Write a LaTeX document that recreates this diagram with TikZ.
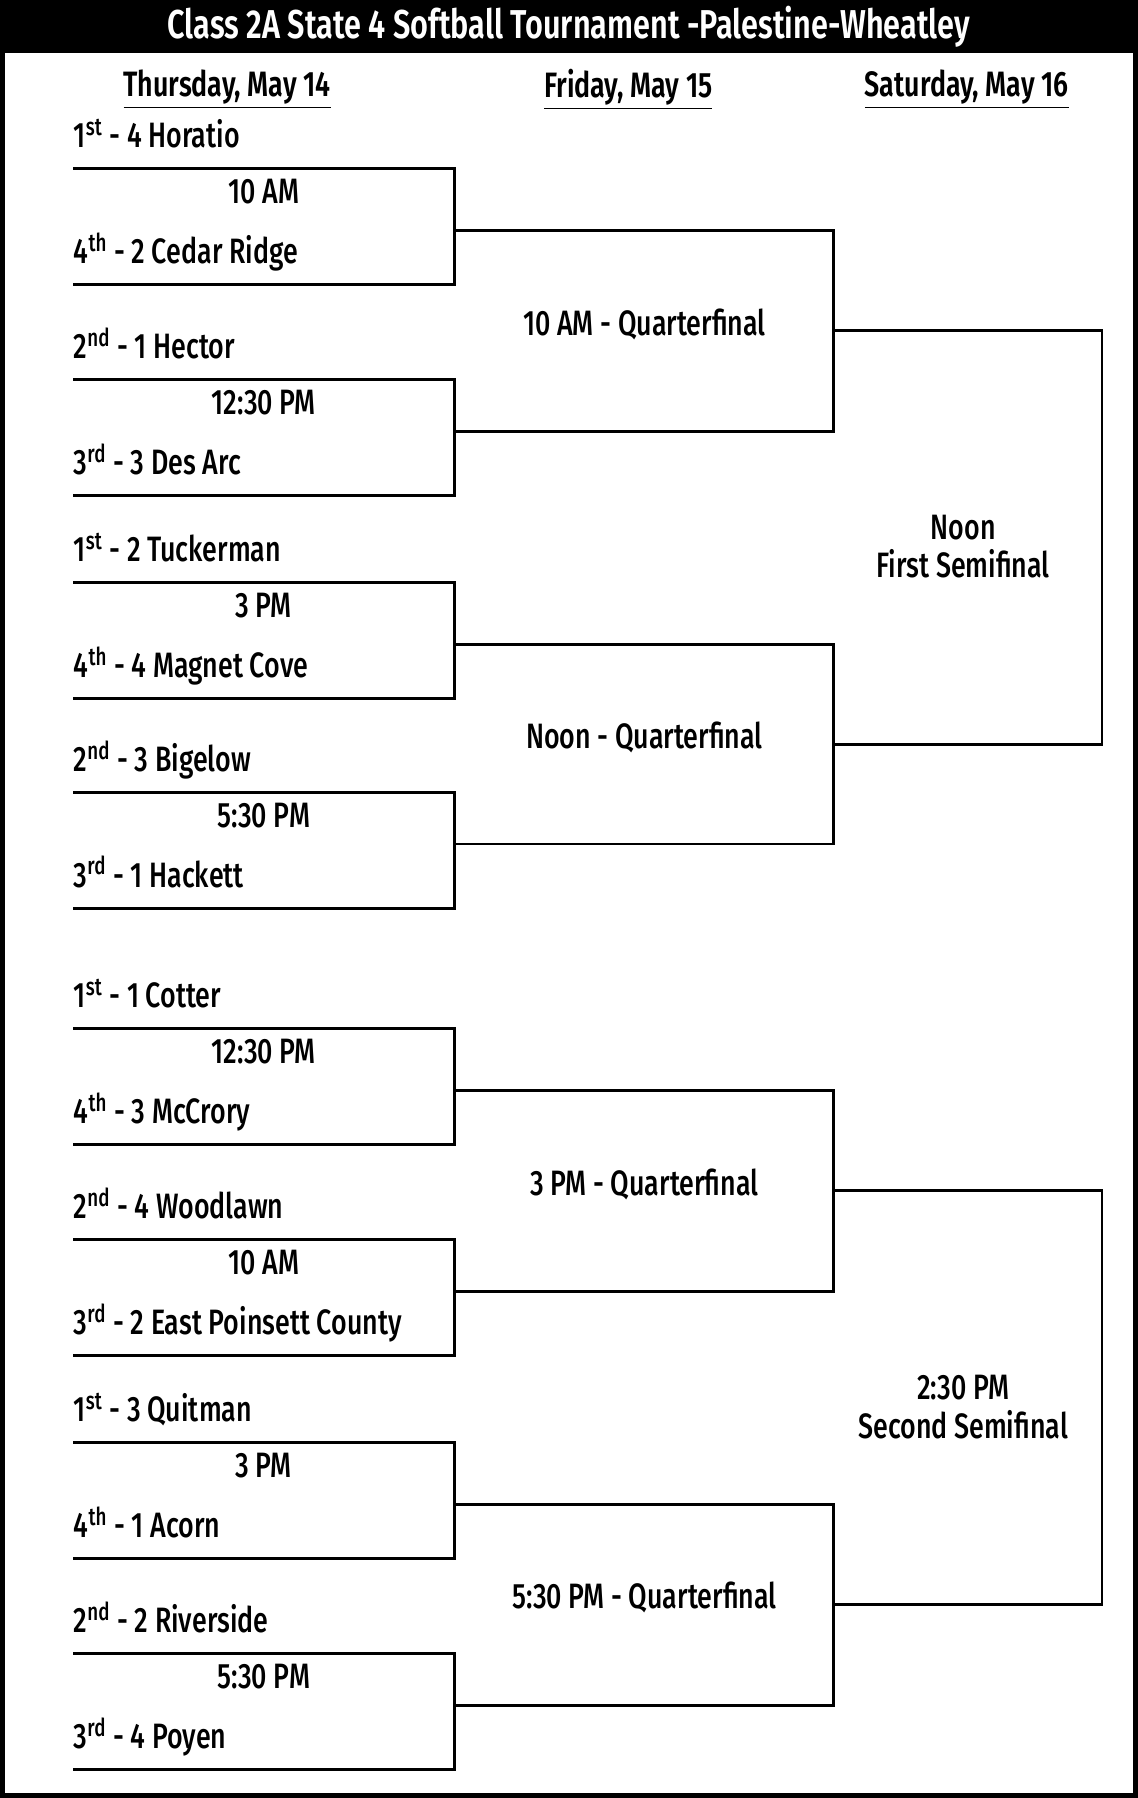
\documentclass[tikz,border=0pt]{standalone}
\usepackage{fontspec}
\setmainfont{Fira Sans Medium}[FakeStretch=0.76,BoldFont=Fira Sans SemiBold]
\usetikzlibrary{calc}
\tikzset{
  team/.style={anchor=base west,inner sep=0pt,font=\fontsize{17.5}{19}\selectfont},
  slot/.style={inner sep=0pt,font=\fontsize{17.5}{19}\selectfont},
  head/.style={inner sep=0pt,font=\fontsize{17.5}{19}\selectfont\bfseries},
  line/.style={line width=1.4pt}
}
\begin{document}
\begin{tikzpicture}[x=0.02cm,y=-0.02cm]
\useasboundingbox (0,0) rectangle (992,1568);
\draw[line width=3pt] (1.5,1.5) rectangle (990.5,1566.5);
\fill (0,0) rectangle (992,46);
\node[head,text=white,font=\fontsize{20}{22}\selectfont\bfseries] (title) at (496,23) {Class 2A State 4 Softball Tournament -Palestine-Wheatley};

\node[head] (thu) at (198,78) {\underline{Thursday, May 14}};
\node[head] (fri) at (548,78) {\underline{Friday, May 15}};
\node[head] (sat) at (843,78) {\underline{Saturday, May 16}};

% first round
\foreach \i/\y/\tm/\a/\b in {
  1/147/10 AM/1\textsuperscript{st} - 4 Horatio/4\textsuperscript{th} - 2 Cedar Ridge,
  2/331/12:30 PM/2\textsuperscript{nd} - 1 Hector/3\textsuperscript{rd} - 3 Des Arc,
  3/508/3 PM/1\textsuperscript{st} - 2 Tuckerman/4\textsuperscript{th} - 4 Magnet Cove,
  4/691/5:30 PM/2\textsuperscript{nd} - 3 Bigelow/3\textsuperscript{rd} - 1 Hackett,
  5/897/12:30 PM/1\textsuperscript{st} - 1 Cotter/4\textsuperscript{th} - 3 McCrory,
  6/1081/10 AM/2\textsuperscript{nd} - 4 Woodlawn/3\textsuperscript{rd} - 2 East Poinsett County,
  7/1258/3 PM/1\textsuperscript{st} - 3 Quitman/4\textsuperscript{th} - 1 Acorn,
  8/1442/5:30 PM/2\textsuperscript{nd} - 2 Riverside/3\textsuperscript{rd} - 4 Poyen}{
  \coordinate (t\i) at (64,\y);
  \coordinate (tr\i) at (396,\y);
  \coordinate (br\i) at (396,\y+101);
  \coordinate (b\i) at (64,\y+101);
  \coordinate (m\i) at (396,\y+54);
  \coordinate (n\i) at (396,\y+45);
  \draw[line] (t\i) -- (tr\i) -- (br\i) -- (b\i);
  \node[team] (a\i) at (64,\y-18) {\a};
  \node[slot] (s\i) at (230,\y+20) {\tm};
  \node[team] (z\i) at (64,\y+83) {\b};
}

% quarterfinals
\foreach \q/\u/\v/\lbl in {1/1/2/10 AM - Quarterfinal,2/3/4/Noon - Quarterfinal,
  3/5/6/3 PM - Quarterfinal,4/7/8/5:30 PM - Quarterfinal}{
  \coordinate (qa\q) at (727,0 |- m\u);
  \coordinate (qb\q) at (727,0 |- n\v);
  \coordinate (q\q) at ($(qa\q)!0.5!(qb\q)$);
  \draw[line] (m\u) -- (qa\q) -- (qb\q) -- (n\v);
  \node[slot] (ql\q) at ($(q\q)+(-165,-6)$) {\lbl};
}

% semifinals
\foreach \s/\u/\v/\lbl in {1/1/2/{Noon\\First Semifinal},2/3/4/{2:30 PM\\Second Semifinal}}{
  \coordinate (sa\s) at (961,0 |- q\u);
  \coordinate (sb\s) at (961,0 |- q\v);
  \draw[line] (q\u) -- (sa\s) -- (sb\s) -- (q\v);
  \node[slot,align=center] (sl\s) at ($(sa\s)!0.5!(sb\s)+(-121,8)$) {\lbl};
}
\end{tikzpicture}
\end{document}
